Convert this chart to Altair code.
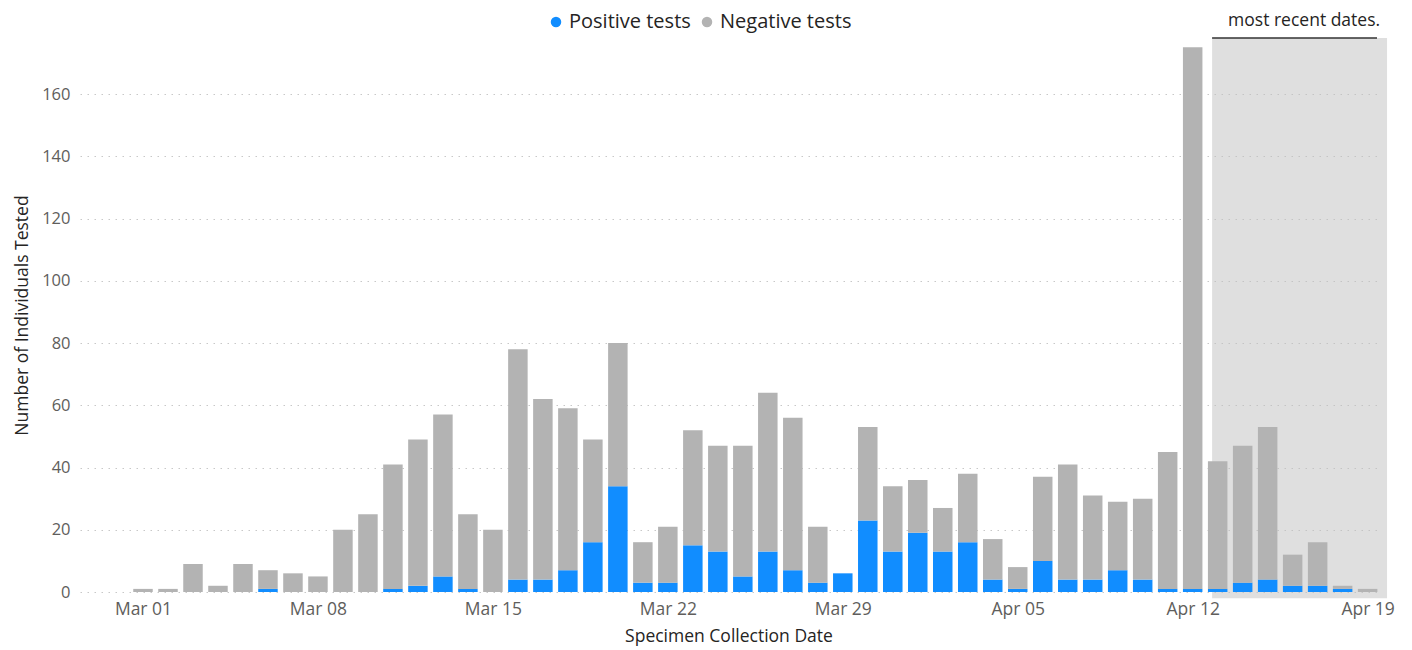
import altair as alt
import pandas as pd

# ---- data ----
dates = pd.date_range("2020-03-01", "2020-04-19", freq="D").strftime("%Y-%m-%dT00:00:00").tolist()
positive = [0, 0, 0, 0, 0, 1, 0, 0, 0, 0,
            1, 2, 5, 1, 0, 4, 4, 7, 16, 34,
            3, 3, 15, 13, 5, 13, 7, 3, 6, 23,
            13, 19, 13, 16, 4, 1, 10, 4, 4, 7,
            4, 1, 1, 1, 3, 4, 2, 2, 1, 0]
total = [1, 1, 9, 2, 9, 7, 6, 5, 20, 25,
         41, 49, 57, 25, 20, 78, 62, 59, 49, 80,
         16, 21, 52, 47, 47, 64, 56, 21, 6, 53,
         34, 36, 27, 38, 17, 8, 37, 41, 31, 29,
         30, 45, 175, 42, 47, 53, 12, 16, 2, 1]
negative = [t - p for t, p in zip(total, positive)]
series = ["Positive tests", "Negative tests"]
colors = ["#118DFF", "#B3B3B3"]
tick_dates = ["2020-03-01", "2020-03-08", "2020-03-15", "2020-03-22",
              "2020-03-29", "2020-04-05", "2020-04-12", "2020-04-19"]
y_ticks = [0, 20, 40, 60, 80, 100, 120, 140, 160]
note_text = "most recent dates."

rows = []
for d, p, n in zip(dates, positive, negative):
    rows.append({"date": d, "series": series[0], "value": p, "ord": 0})
    rows.append({"date": d, "series": series[1], "value": n, "ord": 1})
df = pd.DataFrame(rows)

def dt(y, m, d, h=0, mi=0):
    return alt.DateTime(year=y, month=m, date=d, hours=h, minutes=mi)

x_domain = [dt(2020, 2, 27, 11, 30), dt(2020, 4, 19, 9, 0)]
tick_vals = [dt(int(s[:4]), int(s[5:7]), int(s[8:10])) for s in tick_dates]

FONT = "Segoe UI, Open Sans, sans-serif"

x_scale = alt.Scale(domain=x_domain, padding=0)
y_scale = alt.Scale(domain=[0, 178], nice=False)

x_axis = alt.Axis(values=tick_vals, format="%b %d", title="Specimen Collection Date",
                  grid=False, ticks=False, domain=False, labelPadding=8,
                  labelFontSize=17.5, labelColor="#605E5C", titleFontSize=17.5,
                  titleColor="#252423", titleFontWeight="normal", titlePadding=10,
                  labelFont=FONT, titleFont=FONT)
y_axis = alt.Axis(values=y_ticks, title="Number of Individuals Tested",
                  grid=True, gridColor="#C8C8C8", gridDash=[1.5, 5.5],
                  gridWidth=1, ticks=False, domain=False, labelPadding=10,
                  labelFontSize=16.5, labelColor="#605E5C", titleFontSize=17.5,
                  titleColor="#252423", titleFontWeight="normal", titlePadding=10,
                  labelFont=FONT, titleFont=FONT)

shade_df = pd.DataFrame({"x": ["2020-04-12T18:38:00"], "x2": ["2020-04-19T18:38:00"],
                         "y": [-2], "y2": [178]})
shade = alt.Chart(shade_df).mark_rect(color="#BFBFBF", opacity=0.5).encode(
    x=alt.X("x:T", scale=x_scale, axis=x_axis),
    x2="x2:T",
    y=alt.Y("y:Q", scale=y_scale, axis=y_axis),
    y2="y2:Q",
)

bars = alt.Chart(df).mark_bar(size=19.5).encode(
    x=alt.X("date:T", scale=x_scale, axis=x_axis),
    y=alt.Y("value:Q", stack="zero", scale=y_scale, axis=y_axis),
    color=alt.Color("series:N", scale=alt.Scale(domain=series, range=colors),
                    legend=alt.Legend(title=None, orient="none", direction="horizontal",
                                      legendX=466, legendY=-26, symbolType="circle",
                                      symbolSize=110, labelFontSize=20,
                                      labelColor="#252423", labelFont=FONT,
                                      columnPadding=6, symbolOffset=0, labelOffset=3)),
    order=alt.Order("ord:Q", sort="ascending"),
)

rule_df = pd.DataFrame({"x": ["2020-04-12T18:38:00"], "x2": ["2020-04-19T09:00:00"]})
rule = alt.Chart(rule_df).mark_rule(color="#333333", strokeWidth=1.5).encode(
    x=alt.X("x:T", scale=x_scale, axis=x_axis),
    x2="x2:T",
    y=alt.value(0),
)

text_df = pd.DataFrame({"x": ["2020-04-16T11:00:00"], "t": [note_text]})
note = alt.Chart(text_df).mark_text(fontSize=17.5, color="#252423", font=FONT,
                                    baseline="top", align="center").encode(
    x=alt.X("x:T", scale=x_scale, axis=x_axis),
    y=alt.value(-26),
    text="t:N",
)

chart = alt.layer(shade, bars, rule, note).properties(
    width=1297, height=554,
    autosize=alt.AutoSizeParams(type="none"),
    padding={"left": 72, "top": 30, "right": 27, "bottom": 56},
).configure_view(stroke=None)

chart.save("out.html", embed_options={"renderer": "svg", "actions": False})
